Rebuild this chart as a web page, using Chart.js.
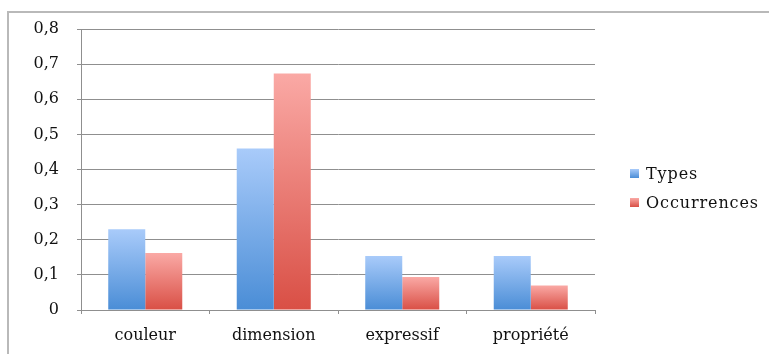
<!DOCTYPE html>
<html>
<head>
<meta charset="utf-8">
<script src="https://cdn.jsdelivr.net/npm/chart.js@4/dist/chart.umd.min.js"></script>
<style>
  html, body { margin: 0; padding: 0; background: #fff; }
  #wrap { position: relative; width: 769px; height: 354px; overflow: hidden; }
  #frame { position: absolute; left: 7px; top: 11px; width: 800px; height: 400px;
           border-left: 2px solid #b9b9b9; border-top: 2px solid #b9b9b9; box-sizing: border-box; }
  #chart { position: absolute; left: 0; top: 0; }
  #legend { position: absolute; left: 630px; top: 159px; font-family: "DejaVu Serif", serif;
            font-size: 16px; letter-spacing: 0.9px; color: #111; }
  .item { display: flex; align-items: center; height: 29px; }
  .swatch { width: 9px; height: 9px; margin-right: 7px; }
</style>
</head>
<body>
<div id="wrap">
  <div id="frame"></div>
  <canvas id="chart" width="769" height="354"></canvas>
  <div id="legend"></div>
</div>
<script>
const categories = ['couleur', 'dimension', 'expressif', 'propriété'];
const seriesNames = ['Types', 'Occurrences'];
const types = [0.23, 0.46, 0.154, 0.154];
const occurrences = [0.162, 0.673, 0.094, 0.070];
const yTickLabels = ['0', '0,1', '0,2', '0,3', '0,4', '0,5', '0,6', '0,7', '0,8'];

// top/bottom colours of the vertical gradient used on each bar
const palettes = [
  ['#a9cbfa', '#4a8dd6'],
  ['#faa9a5', '#d94f45']
];

function barFill(pal) {
  return (c) => {
    const chart = c.chart;
    const y = chart.scales && chart.scales.y;
    if (!chart.chartArea || !y || c.raw === undefined) return pal[1];
    const top = y.getPixelForValue(c.raw);
    const bottom = y.getPixelForValue(0);
    const g = chart.ctx.createLinearGradient(0, top, 0, bottom);
    g.addColorStop(0, pal[0]);
    g.addColorStop(1, pal[1]);
    return g;
  };
}

// slightly spaced lettering for all canvas text
const spacing = {
  id: 'spacing',
  beforeInit(chart) { if ('letterSpacing' in chart.ctx) chart.ctx.letterSpacing = '0.7px'; }
};

const font = { family: '"DejaVu Serif", serif', size: 16 };
const gridColor = '#8f8f8f';

new Chart(document.getElementById('chart'), {
  type: 'bar',
  plugins: [spacing],
  data: {
    labels: categories,
    datasets: [
      { label: seriesNames[0], data: types, backgroundColor: barFill(palettes[0]) },
      { label: seriesNames[1], data: occurrences, backgroundColor: barFill(palettes[1]) }
    ]
  },
  options: {
    responsive: false,
    animation: false,
    events: [],
    layout: { padding: { left: 0, right: 174, top: 29, bottom: 0 } },
    datasets: { bar: { categoryPercentage: 0.576, barPercentage: 1.0 } },
    plugins: { legend: { display: false }, tooltip: { enabled: false } },
    scales: {
      x: {
        afterFit: (s) => { s.height = 44; },
        grid: { offset: true, drawOnChartArea: false, drawTicks: true, tickLength: 4, color: gridColor },
        border: { display: true, color: gridColor, width: 1 },
        ticks: { font: font, color: '#111', padding: 12 }
      },
      y: {
        min: 0, max: 0.8,
        afterFit: (s) => { s.width = 81; },
        grid: { color: gridColor, lineWidth: 1, drawTicks: true, tickLength: 4 },
        border: { display: true, color: gridColor, width: 1 },
        ticks: {
          stepSize: 0.1, font: font, color: '#111', padding: 18,
          callback: (v) => yTickLabels[Math.round(v * 10)]
        }
      }
    }
  }
});

// legend built from the series names and colours
const legend = document.getElementById('legend');
seriesNames.forEach((name, i) => {
  const item = document.createElement('div');
  item.className = 'item';
  const sw = document.createElement('span');
  sw.className = 'swatch';
  sw.style.background = 'linear-gradient(' + palettes[i][0] + ',' + palettes[i][1] + ')';
  const tx = document.createElement('span');
  tx.textContent = name;
  item.appendChild(sw);
  item.appendChild(tx);
  legend.appendChild(item);
});
</script>
</body>
</html>
